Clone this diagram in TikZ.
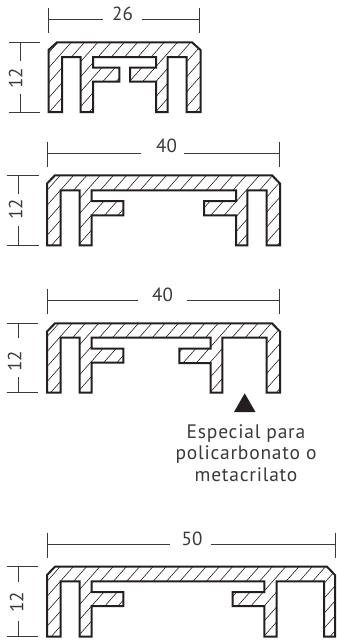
\documentclass[tikz,border=0pt]{standalone}
\usepackage{fontspec}
\setmainfont{PT Sans}
\newfontfamily\notefont[LetterSpace=4]{PT Sans}
\definecolor{ink}{HTML}{231F20}
\definecolor{dimink}{HTML}{3A3A3A}
\tikzset{
  profileline/.style={draw=ink,line width=2pt,line join=miter},
  hatchline/.style={draw=ink,line width=0.6pt},
  dimline/.style={draw=dimink,line width=0.75pt},
  dimlabel/.style={text=dimink,font=\fontsize{19}{19}\selectfont,inner sep=0pt},
  notelabel/.style={text=dimink,align=center,inner sep=0pt,font=\notefont\fontsize{19.5}{21.5}\selectfont}
}
% hatch phase, outline
\newcommand{\hatchedprofile}[2]{%
  \begin{scope}
    \clip #2;
    \foreach \k in {0,...,75} {\draw[hatchline] ({(#1+15*\k)/1.13},0) -- (0,{#1+15*\k});}
  \end{scope}
  \draw[profileline] #2;
}
% name, x-left, x-right, y, gap-left, gap-right, label x, label y, label
\newcommand{\widthdim}[9]{%
  \coordinate (#1a) at (#2,#4);
  \coordinate (#1b) at (#3,#4);
  \coordinate (#1at) at (#2,#4-11.5);
  \coordinate (#1ab) at (#2,#4+13.5);
  \coordinate (#1bt) at (#3,#4-11.5);
  \coordinate (#1bb) at (#3,#4+13.5);
  \coordinate (#1c) at (#5,#4);
  \coordinate (#1d) at (#6,#4);
  \node[dimlabel] (#1t) at (#7,#8) {#9};
  \draw[dimline] (#1at) -- (#1ab);
  \draw[dimline] (#1bt) -- (#1bb);
  \draw[dimline] (#1a) -- (#1c);
  \draw[dimline] (#1d) -- (#1b);
}
% name, x, y-top, y-bottom, gap-top, gap-bottom, label x, label y
\newcommand{\heightdim}[8]{%
  \coordinate (#1a) at (#2,#3);
  \coordinate (#1b) at (#2,#4);
  \coordinate (#1at) at (#2-11.5,#3);
  \coordinate (#1ab) at (#2+20,#3);
  \coordinate (#1bt) at (#2-11.5,#4);
  \coordinate (#1bb) at (#2+20,#4);
  \coordinate (#1c) at (#2,#5);
  \coordinate (#1d) at (#2,#6);
  \node[dimlabel,rotate=90] (#1t) at (#7,#8) {12};
  \draw[dimline] (#1at) -- (#1ab);
  \draw[dimline] (#1bt) -- (#1bb);
  \draw[dimline] (#1a) -- (#1c);
  \draw[dimline] (#1d) -- (#1b);
}
\begin{document}
\begin{tikzpicture}[x=1pt,y=-1pt]
\useasboundingbox (0,0) rectangle (337,641);
\fill[white] (0,0) rectangle (337,641);
% profile 1
\hatchedprofile{2.8}{(48.5,50) -- (57,42.3) -- (192,42.3) -- (200.5,50) -- (200.5,112) -- (186.7,112) -- (186.7,57) -- (167.5,57) -- (167.5,112) -- (156,112) -- (156,81.5) -- (130,81.5) -- (130,67.7) -- (156,67.7) -- (156,57) -- (93,57) -- (93,67.7) -- (119.3,67.7) -- (119.3,81.5) -- (93,81.5) -- (93,112) -- (80.7,112) -- (80.7,57) -- (62,57) -- (62,112) -- (48.5,112) -- cycle}
\widthdim{wa}{48.5}{199.5}{19.3}{103}{142}{122.5}{13.5}{26}
\heightdim{ha}{20}{42.3}{112}{61}{94}{15.5}{78}
% profile 2
\hatchedprofile{3.5}{(47,183.5) -- (55,175.3) -- (272,175.3) -- (280,183.5) -- (280,245.3) -- (266.7,245.3) -- (266.7,190.3) -- (247.3,190.3) -- (247.3,245.3) -- (236,245.3) -- (236,215.3) -- (204,215.3) -- (204,201) -- (236,201) -- (236,190.3) -- (91.7,190.3) -- (91.7,201) -- (123.3,201) -- (123.3,215.3) -- (91.7,215.3) -- (91.7,245.3) -- (79.5,245.3) -- (79.5,190.3) -- (60.5,190.3) -- (60.5,245.3) -- (47,245.3) -- cycle}
\widthdim{wb}{47}{279}{153.3}{141}{184}{166.5}{146}{40}
\heightdim{hb}{18.7}{175.3}{245.3}{193.5}{226}{15.5}{209}
% profile 3
\hatchedprofile{14.8}{(47,331.5) -- (55,323.3) -- (272,323.3) -- (280,331.5) -- (280,392.7) -- (266.7,392.7) -- (266.7,337.7) -- (222.3,337.7) -- (222.3,392.7) -- (210.7,392.7) -- (210.7,363) -- (179.3,363) -- (179.3,348.5) -- (210.7,348.5) -- (210.7,337.7) -- (91.7,337.7) -- (91.7,348.7) -- (123.3,348.7) -- (123.3,362.5) -- (91.7,362.5) -- (91.7,392.7) -- (79.5,392.7) -- (79.5,337.7) -- (60.5,337.7) -- (60.5,392.7) -- (47,392.7) -- cycle}
\widthdim{wc}{47}{279}{300.3}{138}{187}{162.5}{294.5}{40}
\heightdim{hc}{18}{323.3}{392.7}{338}{377}{14.5}{361}
\fill[ink] (244.7,393.3) -- (255.5,412) -- (234,412) -- cycle;
\node[notelabel] (note) at (246,453) {Especial para\\policarbonato o\\metacrilato};
% profile 4
\hatchedprofile{4.5}{(47,575) -- (55,566.7) -- (327,566.7) -- (335,575) -- (335,636.7) -- (324,636.7) -- (324,581.3) -- (276.7,581.3) -- (276.7,636.7) -- (264.3,636.7) -- (264.3,606) -- (232.7,606) -- (232.7,592) -- (264.3,592) -- (264.3,581.3) -- (91.7,581.3) -- (91.7,592) -- (123.3,592) -- (123.3,606) -- (91.7,606) -- (91.7,636.7) -- (79.5,636.7) -- (79.5,581.3) -- (60.5,581.3) -- (60.5,636.7) -- (47,636.7) -- cycle}
\widthdim{wd}{47}{335}{544}{170}{211}{192}{539}{50}
\heightdim{hd}{18}{566.7}{636.7}{582}{621}{16.5}{602}
\end{tikzpicture}
\end{document}
